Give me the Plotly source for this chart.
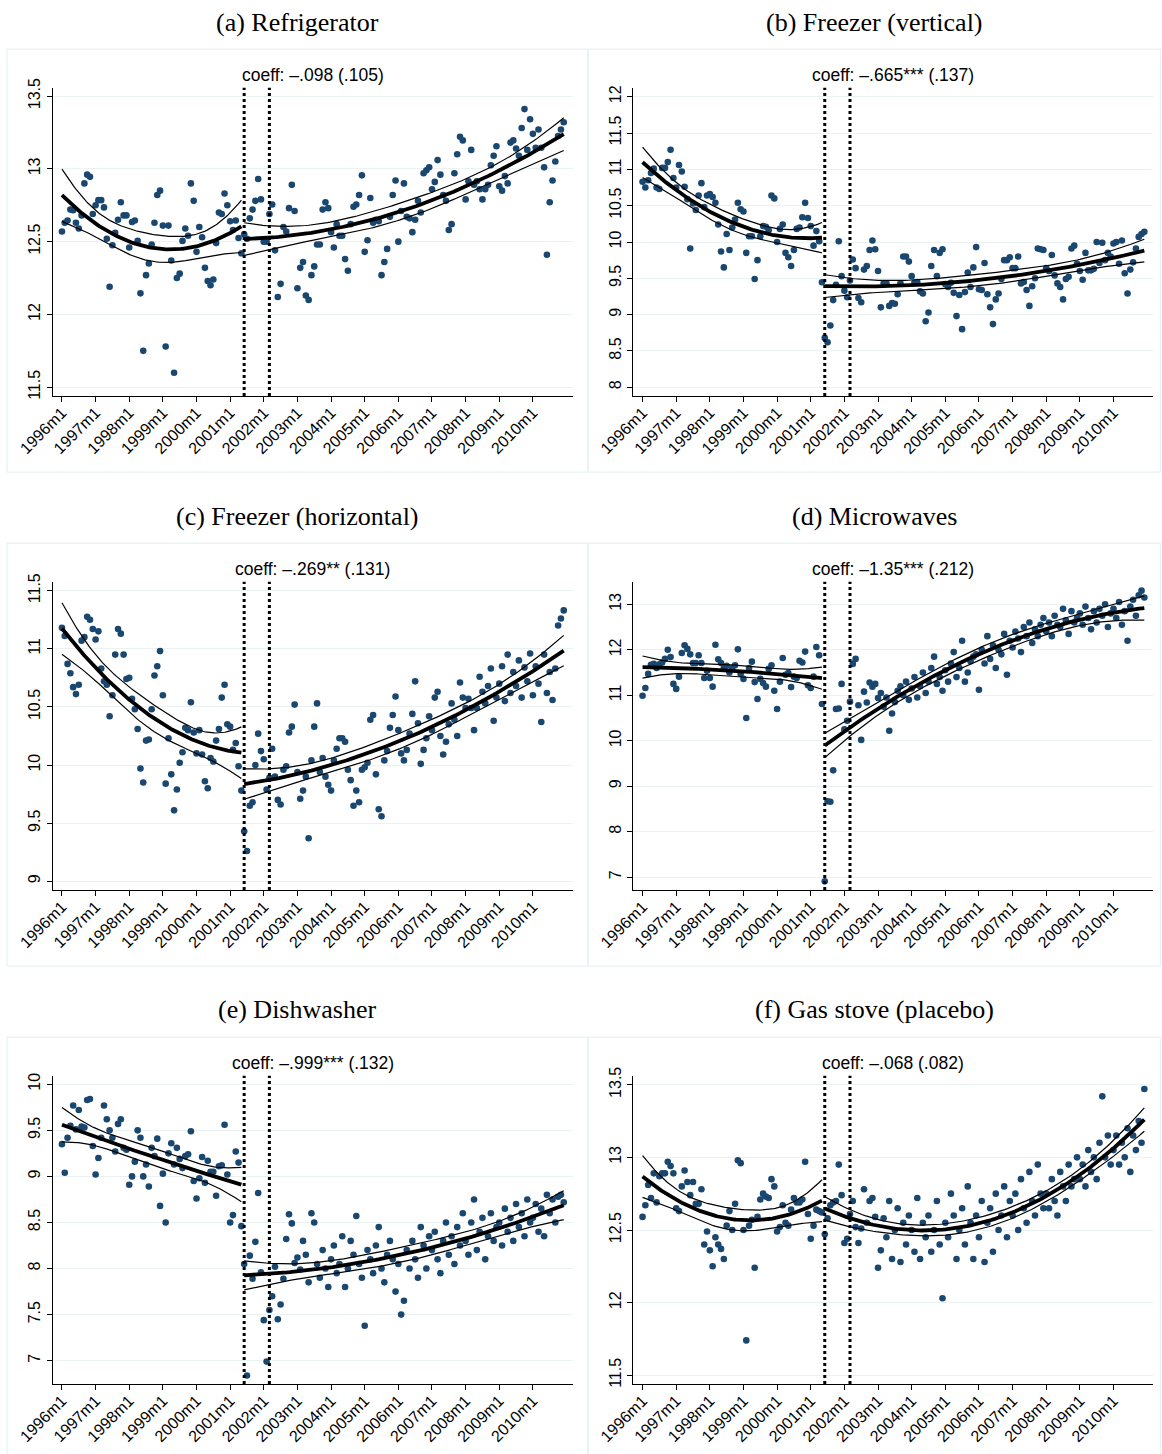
import numpy as np
import plotly.graph_objects as go

# Monthly observations, 1996m1 .. 2010m12 (180 months), log price index by appliance
MONTHS = np.arange(180)
TICK_MONTHS = list(range(0, 169, 12))
TICK_LABELS = [f"{y}m1" for y in range(1996, 2011)]
CUTOFF = 65        # 2001m6: first month of the post period
SECOND_LINE = 74   # 2002m3

refrigerator = [
    12.57, 12.63, 12.645, 12.72, 12.715, 12.63, 12.59, 12.68, 12.90, 12.96, 12.945, 12.69,
    12.75, 12.785, 12.785, 12.735, 12.52, 12.19, 12.475, 12.56, 12.65, 12.77, 12.68, 12.68,
    12.46, 12.635, 12.645, 12.505, 12.145, 11.75, 12.27, 12.35, 12.48, 12.63, 12.82, 12.85,
    12.61, 11.78, 12.61, 12.37, 11.60, 12.25, 12.28, 12.505, 12.59, 12.54, 12.90, 12.78,
    12.43, 12.60, 12.53, 12.32, 12.23, 12.20, 12.24, 12.49, 12.70, 12.69, 12.83, 12.75,
    12.64, 12.58, 12.645, 12.525, 12.42, 12.55, 12.52, 12.66, 12.72, 12.78, 12.93, 12.79,
    12.50, 12.50, 12.69, 12.755, 12.44, 12.12, 12.21, 12.60, 12.57, 12.73, 12.89, 12.71,
    12.18, 12.32, 12.36, 12.13, 12.10, 12.27, 12.33, 12.48, 12.48, 12.72, 12.77, 12.73,
    12.565, 12.46, 12.62, 12.54, 12.54, 12.38, 12.30, 12.62, 12.74, 12.755, 12.82, 12.955,
    12.43, 12.51, 12.80, 12.63, 12.65, 12.64, 12.27, 12.36, 12.45, 12.67, 12.82, 12.92,
    12.50, 12.71, 12.90, 12.67, 12.66, 12.565, 12.65, 12.78, 12.70, 12.97, 12.99, 13.01,
    12.86, 12.91, 13.06, 12.96, 12.82, 12.78, 12.58, 12.62, 12.97, 13.10, 13.22, 13.195,
    12.79, 12.915, 13.13, 12.89, 12.915, 12.86, 12.79, 12.86, 12.89, 13.025, 13.09, 13.155,
    12.88, 12.85, 12.95, 12.90, 13.18, 13.195, 13.14, 13.09, 13.28, 13.41, 13.13, 13.34,
    13.24, 13.145, 13.27, 13.145, 13.01, 12.41, 12.77, 12.92, 13.05, 13.225, 13.27, 13.32,
]

freezer_vertical = [
    10.83, 10.75, 10.85, 10.95, 11.01, 10.75, 10.73, 11.02, 11.02, 11.10, 11.27, 10.88,
    10.75, 11.06, 10.97, 10.76, 10.59, 9.91, 10.53, 10.44, 10.64, 10.81, 10.48, 10.64,
    10.66, 10.62, 10.54, 10.24, 9.87, 9.65, 10.11, 9.89, 10.20, 10.31, 10.54, 10.45,
    10.42, 9.85, 10.08, 10.08, 9.49, 9.75, 10.08, 10.22, 10.21, 10.16, 10.64, 10.60,
    10.00, 10.18, 10.24, 9.85, 9.79, 9.67, 9.89, 10.18, 10.20, 10.34, 10.54, 10.33,
    10.22, 9.95, 10.15, 10.01, 9.445, 8.68, 8.62, 8.85, 9.20, 9.41, 10.01, 9.53,
    9.33, 9.24, 9.47, 9.76, 9.64, 9.23, 9.17, 9.62, 9.67, 9.89, 10.02, 9.90,
    9.60, 9.10, 9.43, 9.43, 9.12, 9.16, 9.15, 9.28, 9.43, 9.80, 9.80, 9.73,
    9.53, 9.44, 9.45, 9.32, 9.29, 8.91, 9.03, 9.67, 9.89, 9.53, 9.85, 9.90,
    9.42, 9.38, 9.44, 9.30, 8.98, 9.27, 8.80, 9.31, 9.58, 9.38, 9.65, 9.93,
    9.35, 9.34, 9.71, 9.28, 9.10, 8.87, 9.21, 9.29, 9.49, 9.75, 9.75, 9.79,
    9.64, 9.64, 9.80, 9.43, 9.45, 9.34, 9.12, 9.39, 9.50, 9.91, 9.90, 9.89,
    9.64, 9.60, 9.82, 9.54, 9.43, 9.38, 9.21, 9.49, 9.52, 9.91, 9.95, 9.70,
    9.60, 9.48, 9.85, 9.61, 9.61, 9.63, 10.00, 9.71, 9.99, 9.75, 9.85, 9.80,
    9.98, 10.00, 9.70, 10.02, 9.57, 9.29, 9.62, 9.72, 9.91, 10.07, 10.11, 10.14,
]

freezer_horizontal = [
    11.18, 11.11, 10.87, 10.79, 10.67, 10.61, 10.69, 11.07, 11.10, 11.275, 11.25, 11.17,
    11.08, 11.15, 10.83, 10.72, 10.69, 10.42, 10.60, 10.95, 11.17, 11.13, 10.95, 10.74,
    10.75, 10.57, 10.48, 10.31, 9.97, 9.85, 10.21, 10.22, 10.48, 10.77, 10.85, 10.98,
    10.60, 9.84, 10.23, 9.92, 9.61, 9.79, 10.02, 10.11, 10.32, 10.30, 10.54, 10.28,
    10.10, 10.30, 10.09, 9.86, 9.80, 10.06, 10.03, 10.21, 10.31, 10.58, 10.69, 10.35,
    10.33, 10.13, 10.19, 9.99, 9.78, 9.43, 9.26, 9.65, 9.68, 10.00, 10.27, 10.12,
    10.05, 9.79, 9.89, 10.14, 9.90, 9.70, 9.66, 9.96, 9.99, 10.28, 10.33, 10.52,
    9.94, 9.71, 9.78, 9.90, 9.37, 10.04, 10.33, 10.53, 9.94, 10.06, 9.90, 9.83,
    9.78, 10.04, 10.14, 10.23, 10.23, 10.20, 9.96, 9.87, 9.65, 9.78, 9.68, 9.96,
    9.98, 10.02, 10.39, 10.43, 9.92, 9.62, 9.56, 10.04, 10.12, 10.32, 10.43, 10.59,
    10.30, 10.10, 10.04, 10.13, 10.27, 10.44, 10.72, 10.36, 10.01, 10.13, 10.23, 10.42,
    10.30, 10.58, 10.63, 10.25, 10.09, 10.20, 10.35, 10.53, 10.39, 10.25, 10.71, 10.58,
    10.49, 10.57, 10.49, 10.30, 10.49, 10.76, 10.63, 10.53, 10.68, 10.83, 10.38, 10.58,
    10.70, 10.85, 10.55, 10.95, 10.62, 10.80, 10.68, 10.90, 10.58, 10.84, 10.72, 10.96,
    10.60, 10.85, 10.70, 10.37, 10.95, 10.62, 10.80, 10.56, 10.83, 11.20, 11.26, 11.33,
]

microwaves = [
    10.99, 11.16, 11.47, 11.67, 11.69, 11.60, 11.68, 11.72, 11.80, 12.00, 11.84, 11.25,
    11.14, 11.41, 11.93, 12.10, 12.02, 11.90, 11.71, 11.71, 11.88, 11.71, 11.38, 11.54,
    11.38, 11.19, 12.11, 11.79, 11.71, 11.60, 11.65, 11.50, 11.60, 11.66, 12.01, 11.47,
    11.36, 10.50, 11.60, 11.74, 11.29, 10.92, 11.36, 11.27, 11.19, 11.58, 11.66, 11.10,
    10.70, 11.30, 11.82, 11.45, 11.49, 11.18, 11.41, 11.38, 11.76, 11.72, 11.96, 11.22,
    11.16, 11.41, 12.06, 11.88, 10.81, 6.91, 8.67, 8.66, 9.35, 10.70, 10.71, 11.25,
    10.25, 10.44, 10.86, 11.69, 11.80, 10.78, 10.02, 11.08, 10.84, 11.28, 11.19, 11.25,
    10.94, 11.05, 10.75, 10.95, 10.22, 10.60, 10.85, 11.10, 11.20, 11.00, 11.30, 10.90,
    11.15, 11.40, 10.95, 11.20, 11.50, 11.05, 11.30, 11.60, 11.85, 11.25, 11.40, 11.10,
    11.55, 11.30, 11.70, 11.95, 11.40, 11.60, 12.20, 11.30, 11.50, 11.75, 11.85, 11.90,
    11.12, 12.00, 11.70, 12.30, 11.80, 12.10, 11.60, 12.00, 11.90, 12.35, 11.45, 12.20,
    12.05, 12.40, 12.25, 11.95, 12.50, 12.30, 12.60, 12.15, 12.45, 12.30, 12.55, 12.70,
    12.40, 12.60, 12.30, 12.75, 12.55, 12.50, 12.90, 12.65, 12.35, 12.85, 12.60, 12.70,
    12.80, 12.55, 12.95, 12.70, 12.45, 12.85, 12.60, 12.90, 12.75, 13.00, 12.50, 12.80,
    12.90, 12.70, 13.05, 12.55, 12.85, 12.20, 12.95, 13.10, 12.75, 13.20, 13.30, 13.15,
]

dishwasher = [
    9.35, 9.04, 9.42, 9.55, 9.77, 9.51, 9.72, 9.54, 9.53, 9.83, 9.84, 9.33,
    9.02, 9.20, 9.42, 9.77, 9.62, 9.50, 9.42, 9.27, 9.57, 9.62, 9.31, 9.29,
    8.91, 9.00, 9.16, 9.50, 9.42, 9.00, 9.13, 8.89, 9.31, 9.22, 9.41, 8.68,
    9.03, 8.50, 9.25, 9.36, 9.13, 9.31, 9.19, 9.09, 9.22, 9.24, 9.49, 8.95,
    8.76, 8.98, 9.21, 8.93, 9.17, 9.05, 9.05, 8.79, 9.11, 9.12, 9.56, 9.02,
    8.50, 8.58, 9.27, 9.15, 8.46, 8.05, 6.84, 8.14, 7.89, 8.29, 8.82, 7.96,
    7.44, 6.99, 7.55, 7.70, 8.02, 7.45, 7.61, 7.89, 8.32, 8.59, 8.49, 8.06,
    8.12, 7.99, 8.30, 8.15, 7.85, 8.60, 8.50, 8.05, 7.90, 8.20, 8.00, 7.80,
    8.10, 8.25, 7.95, 8.05, 8.35, 7.80, 8.00, 8.30, 8.15, 8.57, 8.05, 7.90,
    7.38, 8.20, 8.10, 7.95, 8.25, 8.45, 8.00, 7.85, 8.15, 8.30, 8.10, 7.75,
    8.05, 7.50, 7.65, 8.20, 8.00, 8.30, 8.10, 7.90, 8.45, 8.25, 8.00, 8.35,
    8.20, 8.40, 8.10, 7.95, 8.30, 8.50, 8.15, 8.35, 8.05, 8.45, 8.25, 8.60,
    8.30, 8.15, 8.50, 8.75, 8.20, 8.40, 8.55, 8.10, 8.35, 8.60, 8.30, 8.45,
    8.50, 8.25, 8.65, 8.40, 8.55, 8.30, 8.70, 8.45, 8.60, 8.35, 8.75, 8.50,
    8.55, 8.70, 8.40, 8.65, 8.35, 8.80, 8.60, 8.75, 8.50, 8.78, 8.80, 8.72,
]

gas_stove = [
    12.59, 12.67, 12.81, 12.72, 12.89, 12.69, 12.87, 12.89, 12.89, 12.97, 12.94, 12.89,
    12.65, 12.63, 12.80, 12.91, 12.83, 12.74, 12.83, 12.68, 12.68, 12.78, 12.40, 12.49,
    12.36, 12.25, 12.45, 12.40, 12.37, 12.30, 12.53, 12.63, 12.50, 12.68, 12.98, 12.96,
    12.50, 11.74, 12.53, 12.57, 12.24, 12.59, 12.71, 12.75, 12.73, 12.72, 12.85, 12.80,
    12.49, 12.52, 12.67, 12.55, 12.53, 12.64, 12.72, 12.69, 12.69, 12.71, 12.97, 12.61,
    12.44, 12.53, 12.64, 12.63, 12.62, 12.47, 12.58, 12.67, 12.69, 12.70, 12.95, 12.74,
    12.41, 12.44, 12.61, 12.70, 12.52, 12.41, 12.51, 12.78, 12.55, 12.70, 12.72, 12.59,
    12.24, 12.36, 12.58, 12.45, 12.70, 12.30, 12.50, 12.65, 12.28, 12.55, 12.40, 12.60,
    12.50, 12.35, 12.72, 12.30, 12.55, 12.45, 12.60, 12.35, 12.50, 12.70, 12.40, 12.03,
    12.55, 12.45, 12.75, 12.60, 12.30, 12.50, 12.65, 12.40, 12.80, 12.55, 12.30, 12.60,
    12.45, 12.70, 12.28, 12.55, 12.65, 12.35, 12.75, 12.50, 12.60, 12.80, 12.45, 12.70,
    12.60, 12.75, 12.50, 12.85, 12.65, 12.55, 12.90, 12.70, 12.60, 12.95, 12.75, 12.65,
    12.75, 12.65, 12.85, 12.70, 12.60, 12.90, 12.80, 12.70, 12.95, 12.80, 12.85, 13.00,
    12.85, 12.95, 12.80, 13.05, 12.90, 13.00, 12.85, 13.10, 13.42, 13.00, 13.15, 12.95,
    13.05, 13.15, 12.95, 13.10, 13.00, 13.20, 12.90, 13.15, 13.05, 13.25, 13.10, 13.47,
]

TITLES = ["(a) Refrigerator", "(b) Freezer (vertical)", "(c) Freezer (horizontal)",
          "(d) Microwaves", "(e) Dishwasher", "(f) Gas stove (placebo)"]
COEFFS = ["coeff: \u2013.098 (.105)", "coeff: \u2013.665*** (.137)",
          "coeff: \u2013.269** (.131)", "coeff: \u20131.35*** (.212)",
          "coeff: \u2013.999*** (.132)", "coeff: \u2013.068 (.082)"]
SERIES = [refrigerator, freezer_vertical, freezer_horizontal, microwaves, dishwasher, gas_stove]
Y_RANGES = [(11.44, 13.557), (7.88, 12.124), (8.925, 11.577),
            (6.72, 13.497), (6.747, 10.093), (11.44, 13.562)]
Y_TICKS = [[11.5, 12, 12.5, 13, 13.5], [8, 8.5, 9, 9.5, 10, 10.5, 11, 11.5, 12],
           [9, 9.5, 10, 10.5, 11, 11.5], [7, 8, 9, 10, 11, 12, 13],
           [7, 7.5, 8, 8.5, 9, 9.5, 10], [11.5, 12, 12.5, 13, 13.5]]

W, H = 1162, 1454
NAVY = "#1a476f"
GRID = "#eaf2f3"
SANS = "Liberation Sans, Arial, sans-serif"
SERIF = "Liberation Serif, Times New Roman, serif"


def quad_fit(t, y, grid):
    """Quadratic OLS fit with 95% confidence band for the mean."""
    c = t.mean()
    X = np.column_stack([np.ones_like(t), t - c, (t - c) ** 2])
    beta, *_ = np.linalg.lstsq(X, y, rcond=None)
    resid = y - X @ beta
    s2 = resid @ resid / (len(y) - 3)
    cov = s2 * np.linalg.inv(X.T @ X)
    G = np.column_stack([np.ones_like(grid), grid - c, (grid - c) ** 2])
    pred = G @ beta
    se = np.sqrt(np.einsum("ij,jk,ik->i", G, cov, G))
    return pred, pred - 1.98 * se, pred + 1.98 * se


def fmt(v):
    return f"{v:g}"


fig = go.Figure()
shapes, annotations = [], []

for i, (title, coeff, vals) in enumerate(zip(TITLES, COEFFS, SERIES)):
    vals = np.asarray(vals, dtype=float)
    assert len(vals) == 180, (title, len(vals))
    row, col = divmod(i, 2)
    n = "" if i == 0 else str(i + 1)
    xa, ya = "x" + n, "y" + n

    # plot-area pixel box
    px0 = 52.7 + col * 580.6
    px1 = px0 + 520.0
    py0 = 87.7 + row * 494.0
    py1 = py0 + 308.3

    fig.add_trace(go.Scatter(
        x=MONTHS, y=vals, mode="markers", xaxis=xa, yaxis=ya,
        marker=dict(color=NAVY, size=6.6, line=dict(width=0)),
        showlegend=False, hoverinfo="skip"))

    for lo, hi in ((0, CUTOFF - 1), (CUTOFF, 179)):
        mask = (MONTHS >= lo) & (MONTHS <= hi)
        t = MONTHS[mask].astype(float)
        grid = np.linspace(lo, hi, 120)
        pred, low, high = quad_fit(t, vals[mask], grid)
        for yy, wdt in ((low, 1.2), (high, 1.2), (pred, 3.8)):
            fig.add_trace(go.Scatter(
                x=grid, y=yy, mode="lines", xaxis=xa, yaxis=ya,
                line=dict(color="black", width=wdt),
                showlegend=False, hoverinfo="skip"))

    ticks = Y_TICKS[i]
    fig.update_layout(**{
        ("xaxis" + n): dict(
            domain=[px0 / W, px1 / W], anchor=ya, range=[-3.3, 182.2], automargin=False,
            tickmode="array", tickvals=TICK_MONTHS, ticktext=TICK_LABELS,
            tickangle=-45, ticks="outside", ticklen=5, tickwidth=1.2, tickcolor="black",
            ticklabelstandoff=-5,
            showline=True, linecolor="black", linewidth=1.3, showgrid=False, zeroline=False,
            tickfont=dict(family=SANS, size=16, color="black")),
        ("yaxis" + n): dict(
            domain=[1 - py1 / H, 1 - py0 / H], anchor=xa, range=list(Y_RANGES[i]),
            automargin=False,
            tickmode="array", tickvals=ticks, ticktext=[fmt(v) for v in ticks],
            tickangle=-90, ticks="outside", ticklen=5, tickwidth=1.2, tickcolor="black",
            showline=True, linecolor="black", linewidth=1.3,
            showgrid=True, gridcolor=GRID, gridwidth=1.2, zeroline=False,
            tickfont=dict(family=SANS, size=16, color="black")),
    })

    # vertical markers at the cutoff and at 2002m3
    for xv in (CUTOFF, SECOND_LINE):
        shapes.append(dict(type="line", xref=xa, yref=ya + " domain",
                           x0=xv, x1=xv, y0=0, y1=1, layer="above",
                           line=dict(color="black", width=3, dash="dot")))

    # panel frame
    bx0 = 7 + col * 581.3
    bx1 = bx0 + 580.7 if col == 0 else 1160.5
    by0 = py0 - 38.6
    by1 = min(py0 + 384.5, H + 3)
    shapes.append(dict(type="rect", xref="paper", yref="paper",
                       x0=bx0 / W, x1=bx1 / W, y0=1 - by1 / H, y1=1 - by0 / H,
                       line=dict(color=GRID, width=1.3), layer="below"))

    annotations.append(dict(
        text=coeff, xref="paper", yref="paper", x=(px0 + px1) / 2 / W,
        y=1 - (py0 - 13) / H, xanchor="center", yanchor="middle", showarrow=False,
        font=dict(family=SANS, size=17.5, color="black")))
    annotations.append(dict(
        text=title, xref="paper", yref="paper", x=(bx0 + bx1) / 2 / W,
        y=1 - (22 + row * 494) / H, xanchor="center", yanchor="middle", showarrow=False,
        font=dict(family=SERIF, size=26, color="black")))

fig.update_layout(width=W, height=H, margin=dict(l=0, r=0, t=0, b=0, pad=0),
                  paper_bgcolor="white", plot_bgcolor="white",
                  shapes=shapes, annotations=annotations, showlegend=False)

fig.write_html("out.html")
